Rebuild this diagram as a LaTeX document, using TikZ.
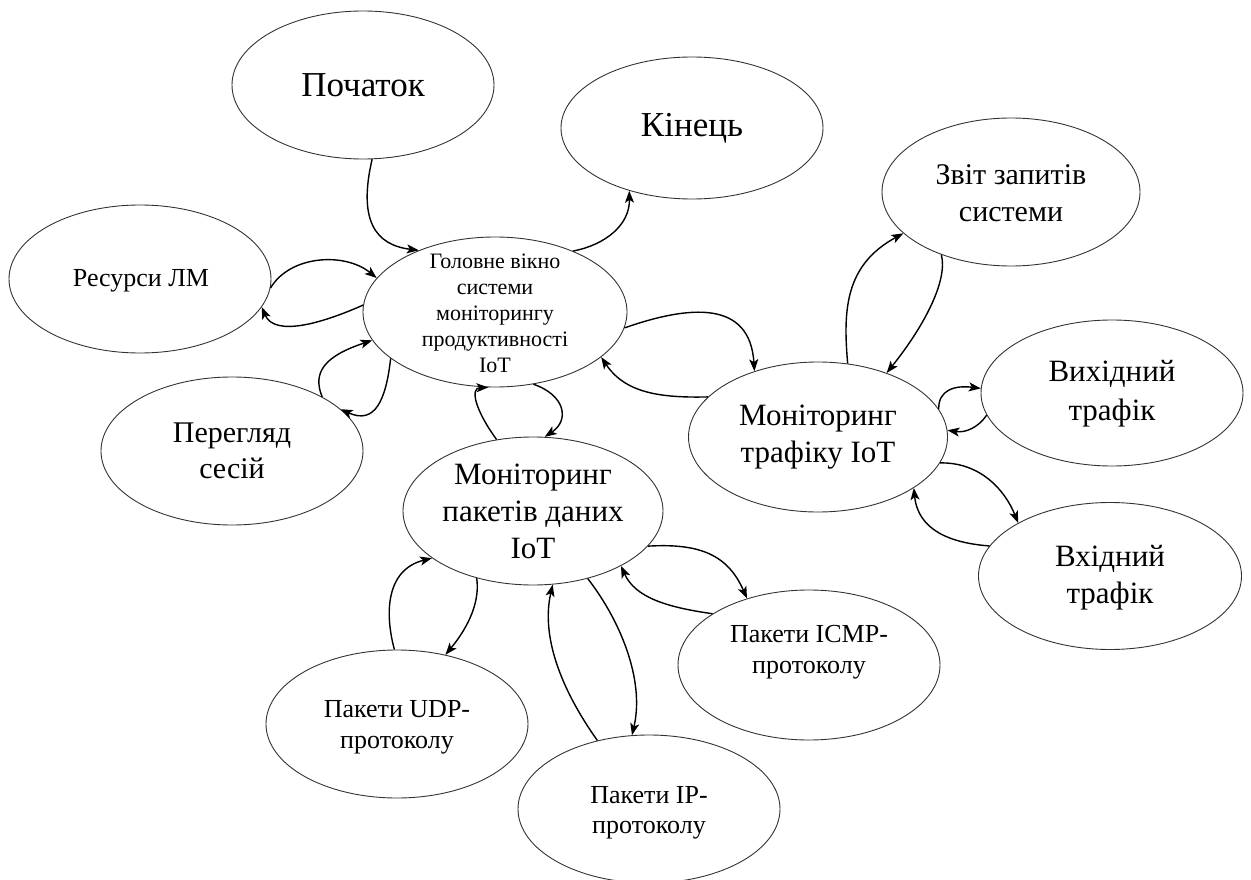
\documentclass[tikz,border=0pt]{standalone}
\usepackage{fontspec}
\setmainfont{Liberation Serif}
\usetikzlibrary{shapes.geometric,arrows.meta}

\begin{document}
\begin{tikzpicture}[x=1pt,y=-1pt,
  elp/.style={ellipse, draw=black!80, line width=0.9pt,
              minimum width=262pt, minimum height=148pt, inner sep=0pt},
  lbl/.style={align=center, inner sep=0pt},
  link/.style={line width=1.4pt, -{Stealth[length=12pt,width=9pt,inset=3pt]}},
]
\useasboundingbox (0,0) rectangle (1251,880);

% states
\node[elp] (start) at (363,85)  {};
\node[elp, minimum height=142pt] (finish) at (692,128) {};
\node[elp, minimum width=258pt] (rep) at (1011,192) {};
\node[elp] (res)   at (140,279) {};
\node[elp, minimum width=264pt, minimum height=150pt] (main) at (495,312) {};
\node[elp] (sess)  at (232,451) {};
\node[elp, minimum width=260pt] (mp) at (533,511) {};
\node[elp, minimum width=259pt, minimum height=150pt] (mt) at (818,437) {};
\node[elp, minimum height=146pt] (out) at (1112,393) {};
\node[elp, minimum width=263pt, minimum height=147pt] (in) at (1110,576) {};
\node[elp, minimum height=150pt] (icmp) at (809,665) {};
\node[elp] (udp)   at (397,724) {};
\node[elp] (ip)    at (649,809) {};

% captions
\node[lbl, font=\fontsize{35}{40}\selectfont] (start-t) at (363,85) {Початок};
\node[lbl, font=\fontsize{35}{40}\selectfont] (finish-t) at (692,128) {Кінець};
\node[lbl, font=\fontsize{30}{37}\selectfont] (rep-t) at (1011,193) {Звіт запитів\\системи};
\node[lbl, font=\fontsize{26}{31}\selectfont] (res-t) at (141,281) {Ресурси ЛМ};
\node[lbl, font=\fontsize{22}{26}\selectfont] (main-t) at (495,313)
  {Головне вікно\\системи\\моніторингу\\продуктивності\\IoT};
\node[lbl, font=\fontsize{30}{36}\selectfont] (sess-t) at (232,451) {Перегляд\\сесій};
\node[lbl, font=\fontsize{31}{37}\selectfont] (mp-t) at (533,511) {Моніторинг\\пакетів даних\\IoT};
\node[lbl, font=\fontsize{31}{37}\selectfont] (mt-t) at (818,437) {Моніторинг\\трафіку IoT};
\node[lbl, font=\fontsize{31}{39}\selectfont] (out-t) at (1112,394) {Вихідний\\трафік};
\node[lbl, font=\fontsize{31}{37}\selectfont] (in-t) at (1110,578) {Вхідний\\трафік};
\node[lbl, font=\fontsize{26}{31}\selectfont] (icmp-t) at (809,652) {Пакети ICMP-\\протоколу};
\node[lbl, font=\fontsize{26}{31}\selectfont] (udp-t) at (397,727) {Пакети UDP-\\протоколу};
\node[lbl, font=\fontsize{26}{30}\selectfont] (ip-t) at (649,813) {Пакети IP-\\протоколу};

% transitions
\draw[link] (start.-83) .. controls (358,220) and (375,245) .. (main.141);
\draw[link] (main.38) .. controls (605,245) and (630,225) .. (finish.-135);
\draw[link] (res.-4) .. controls (290,255) and (345,252) .. (main.164);
\draw[link] (main.177) .. controls (325,322) and (275,338) .. (res.-13);
\draw[link] (sess.31) .. controls (312,372) and (325,356) .. (main.193);
\draw[link] (main.-156) .. controls (386,400) and (375,425) .. (sess.21);
\draw[link] (mp.117) .. controls (475,410) and (470,388) .. (main.-95);
\draw[link] (main.-62) .. controls (565,395) and (570,420) .. (mp.81);
\draw[link] (main.-7) .. controls (690,305) and (750,300) .. (mt.134);
\draw[link] (mt.160) .. controls (660,398) and (625,393) .. (main.-23);
\draw[link] (mt.68) .. controls (843,310) and (845,265) .. (rep.-159);
\draw[link] (rep.-138) .. controls (948,280) and (925,325) .. (mt.43);
\draw[link] (mt.13) .. controls (938,390) and (955,385) .. (out.178);
\draw[link] (out.-170) .. controls (978,428) and (965,433) .. (mt.3);
\draw[link] (mt.-12) .. controls (980,462) and (1005,490) .. (in.150);
\draw[link] (in.166) .. controls (950,543) and (918,530) .. (mt.-28);
\draw[link] (mp.-17) .. controls (700,543) and (728,555) .. (icmp.133);
\draw[link] (icmp.152) .. controls (665,607) and (635,597) .. (mp.-32);
\draw[link] (udp.92) .. controls (385,615) and (385,570) .. (mp.-155);
\draw[link] (mp.-130) .. controls (480,600) and (470,625) .. (udp.55);
\draw[link] (ip.127) .. controls (565,695) and (540,640) .. (mp.-75);
\draw[link] (mp.-51) .. controls (620,620) and (645,680) .. (ip.103);
\end{tikzpicture}
\end{document}
